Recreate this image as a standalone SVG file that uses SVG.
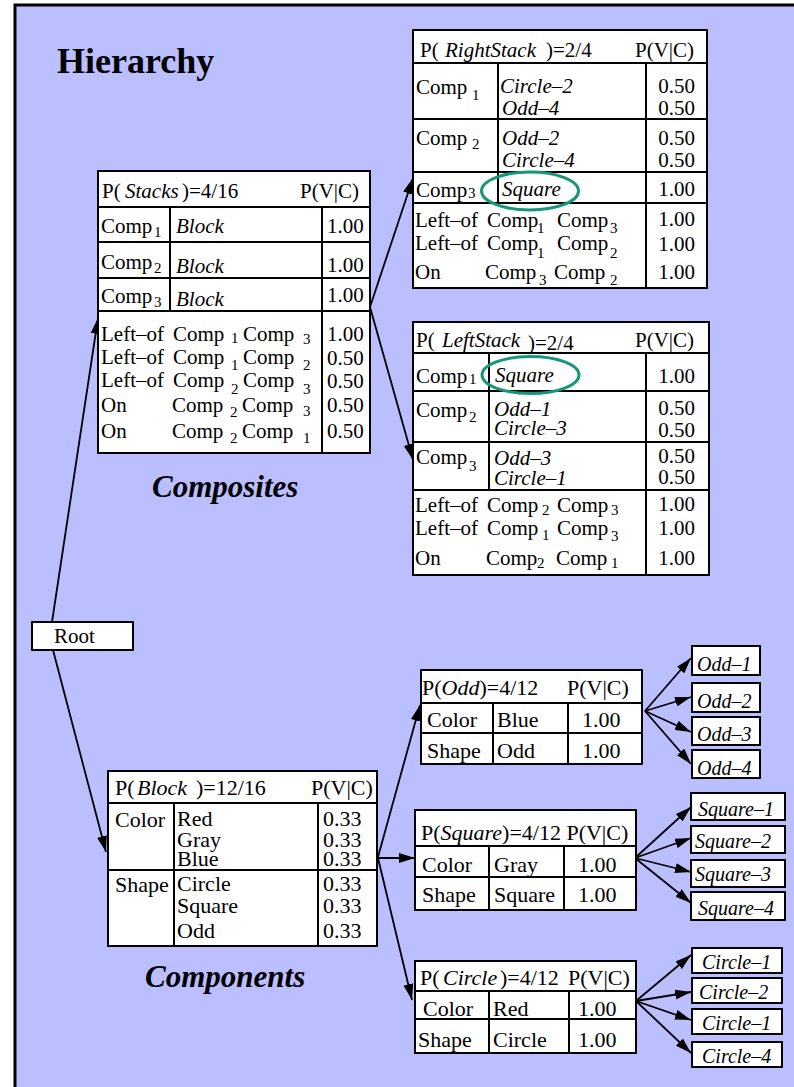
<svg xmlns="http://www.w3.org/2000/svg" width="794" height="1087" viewBox="0 0 794 1087">
<defs>
<style>
text{font-family:"Liberation Serif","Times New Roman",serif;font-size:21px;fill:#000}
.i{font-style:italic}
.s{font-size:15px}
.c{font-size:22px}
.lf{font-size:20px;font-style:italic}
.ttl{font-size:36px;font-weight:bold}
.lbl{font-size:31px;font-weight:bold;font-style:italic}
.box{fill:#fff;stroke:#000;stroke-width:2}
.ln{stroke:#000;stroke-width:2;fill:none}
.ed{stroke:#000;stroke-width:1.8;fill:none;marker-end:url(#ah)}
.ring{fill:none;stroke:#17977a;stroke-width:3}
</style>
<marker id="ah" markerUnits="userSpaceOnUse" markerWidth="16" markerHeight="10" refX="16" refY="5" orient="auto">
<path d="M0,0 L16,5 L0,10 z" fill="#000"/>
</marker>
</defs>
<rect x="15" y="5" width="800" height="1100" fill="#bbbeff" stroke="#000" stroke-width="3"/>
<text class="ttl" x="57" y="73">Hierarchy</text>
<text class="lbl" x="152" y="497">Composites</text>
<text class="lbl" x="145" y="987">Components</text>

<g id="connectors">
<path class="ed" d="M52,622 L98,318"/>
<path class="ed" d="M53,650 L106,852"/>
<path class="ed" d="M370,307 L413,178"/>
<path class="ed" d="M370,307 L413,460"/>
<path class="ed" d="M378,857 L420,705"/>
<path class="ed" d="M378,858 L415,858"/>
<path class="ed" d="M378,858 L412,1000"/>
<path class="ed" d="M645,711 L691,658"/>
<path class="ed" d="M645,711 L691,697"/>
<path class="ed" d="M645,711 L691,732"/>
<path class="ed" d="M645,711 L691,764"/>
<path class="ed" d="M635,858 L691,807"/>
<path class="ed" d="M635,858 L691,838"/>
<path class="ed" d="M635,858 L691,872"/>
<path class="ed" d="M635,858 L691,903"/>
<path class="ed" d="M636,1001 L691,955"/>
<path class="ed" d="M636,1001 L691,992"/>
<path class="ed" d="M636,1001 L691,1020"/>
<path class="ed" d="M636,1001 L691,1053"/>
</g>

<g id="root">
<rect class="box" x="32" y="622" width="101" height="28"/>
<text x="54" y="643">Root</text>
</g>

<g id="stacks">
<rect class="box" x="98" y="171" width="272" height="282"/>
<path class="ln" d="M98,207H370M98,242H370M98,278H370M98,311H370M170,207V311M322,207V453"/>
<text x="102" y="198">P(</text><text class="i" x="125" y="198">Stacks</text><text x="182" y="198">)=4/16</text>
<text x="300" y="198">P(V|C)</text>
<text x="101" y="233">Comp</text><text class="s" x="154" y="237">1</text><text class="i" x="176" y="233">Block</text><text x="327" y="233">1.00</text>
<text x="101" y="269">Comp</text><text class="s" x="154" y="273">2</text><text class="i" x="176" y="273">Block</text><text x="327" y="272">1.00</text>
<text x="101" y="303">Comp</text><text class="s" x="154" y="307">3</text><text class="i" x="176" y="306">Block</text><text x="327" y="302">1.00</text>
<text x="101" y="341">Left–of</text><text x="173" y="341">Comp</text><text class="s" x="231" y="343">1</text><text x="243" y="341">Comp</text><text class="s" x="303" y="344">3</text><text x="327" y="341">1.00</text>
<text x="101" y="364">Left–of</text><text x="173" y="364">Comp</text><text class="s" x="231" y="370">1</text><text x="243" y="364">Comp</text><text class="s" x="303" y="370">2</text><text x="327" y="365">0.50</text>
<text x="101" y="387">Left–of</text><text x="173" y="387">Comp</text><text class="s" x="231" y="394">2</text><text x="243" y="387">Comp</text><text class="s" x="303" y="394">3</text><text x="327" y="388">0.50</text>
<text x="101" y="412">On</text><text x="172" y="412">Comp</text><text class="s" x="230" y="417">2</text><text x="242" y="412">Comp</text><text class="s" x="303" y="416">3</text><text x="327" y="412">0.50</text>
<text x="101" y="438">On</text><text x="172" y="438">Comp</text><text class="s" x="230" y="443">2</text><text x="242" y="438">Comp</text><text class="s" x="303" y="443">1</text><text x="327" y="438">0.50</text>
</g>

<g id="rightstack">
<rect class="box" x="413" y="30" width="294" height="258"/>
<path class="ln" d="M413,63H707M413,119H707M413,172H707M413,203H707M498,63V203M646,63V288"/>
<text x="420" y="57">P(</text><text class="i" x="445" y="57">RightStack</text><text x="546" y="57">)=2/4</text>
<text x="635" y="57">P(V|C)</text>
<text x="416" y="94">Comp</text><text class="s" x="472" y="100">1</text>
<text class="i" x="500" y="93">Circle–2</text><text class="i" x="502" y="115">Odd–4</text>
<text x="695" y="93" text-anchor="end">0.50</text><text x="695" y="115" text-anchor="end">0.50</text>
<text x="416" y="145">Comp</text><text class="s" x="472" y="149">2</text>
<text class="i" x="502" y="145">Odd–2</text><text class="i" x="502" y="167">Circle–4</text>
<text x="695" y="145" text-anchor="end">0.50</text><text x="695" y="167" text-anchor="end">0.50</text>
<text x="416" y="197">Comp</text><text class="s" x="468" y="198">3</text>
<text class="i" x="502" y="196">Square</text><text x="695" y="196" text-anchor="end">1.00</text>
<text x="415" y="227">Left–of</text><text x="487" y="227">Comp</text><text class="s" x="537" y="233">1</text><text x="557" y="227">Comp</text><text class="s" x="610" y="233">3</text>
<text x="695" y="226" text-anchor="end">1.00</text>
<text x="415" y="250">Left–of</text><text x="487" y="250">Comp</text><text class="s" x="537" y="258">1</text><text x="557" y="250">Comp</text><text class="s" x="610" y="258">2</text>
<text x="695" y="251" text-anchor="end">1.00</text>
<text x="415" y="279">On</text><text x="485" y="279">Comp</text><text class="s" x="539" y="285">3</text><text x="554" y="279">Comp</text><text class="s" x="610" y="285">2</text>
<text x="695" y="279" text-anchor="end">1.00</text>
<ellipse class="ring" cx="530" cy="191" rx="48.5" ry="19"/>
</g>

<g id="leftstack">
<rect class="box" x="413" y="322" width="296" height="253"/>
<path class="ln" d="M413,353H709M413,391H709M413,442H709M413,490H709M489,353V490M646,353V575"/>
<text x="416" y="347">P(</text><text class="i" x="442" y="347">LeftStack</text><text x="528" y="350">)=2/4</text>
<text x="635" y="347">P(V|C)</text>
<text x="416" y="383">Comp</text><text class="s" x="469" y="384">1</text>
<text class="i" x="495" y="382">Square</text><text x="695" y="383" text-anchor="end">1.00</text>
<text x="416" y="417">Comp</text><text class="s" x="469" y="422">2</text>
<text class="i" x="494" y="416">Odd–1</text><text class="i" x="494" y="435">Circle–3</text>
<text x="695" y="415" text-anchor="end">0.50</text><text x="695" y="437" text-anchor="end">0.50</text>
<text x="416" y="464">Comp</text><text class="s" x="469" y="471">3</text>
<text class="i" x="494" y="465">Odd–3</text><text class="i" x="494" y="485">Circle–1</text>
<text x="695" y="463" text-anchor="end">0.50</text><text x="695" y="484" text-anchor="end">0.50</text>
<text x="415" y="512">Left–of</text><text x="487" y="512">Comp</text><text class="s" x="542" y="515">2</text><text x="557" y="512">Comp</text><text class="s" x="611" y="515">3</text>
<text x="695" y="511" text-anchor="end">1.00</text>
<text x="415" y="535">Left–of</text><text x="487" y="535">Comp</text><text class="s" x="542" y="540">1</text><text x="557" y="535">Comp</text><text class="s" x="611" y="541">3</text>
<text x="695" y="535" text-anchor="end">1.00</text>
<text x="415" y="565">On</text><text x="486" y="565">Comp</text><text class="s" x="537" y="568">2</text><text x="556" y="565">Comp</text><text class="s" x="611" y="568">1</text>
<text x="695" y="565" text-anchor="end">1.00</text>
<ellipse class="ring" cx="530.5" cy="375" rx="48.5" ry="18.5"/>
</g>

<g id="block">
<rect class="box" x="108" y="771" width="269" height="175"/>
<path class="ln" d="M108,803H377M108,870H377M174,803V946M318,803V946"/>
<g class="c">
<text class="c" x="115" y="795">P(</text><text class="c i" x="137" y="795">Block</text><text class="c" x="196" y="795">)=12/16</text>
<text class="c" x="311" y="795">P(V|C)</text>
<text class="c" x="115" y="827">Color</text>
<text class="c" x="177" y="826">Red</text><text class="c" x="177" y="847">Gray</text><text class="c" x="177" y="866">Blue</text>
<text class="c" x="323" y="826">0.33</text><text class="c" x="323" y="847">0.33</text><text class="c" x="323" y="866">0.33</text>
<text class="c" x="115" y="892">Shape</text>
<text class="c" x="177" y="891">Circle</text><text class="c" x="177" y="913">Square</text><text class="c" x="177" y="938">Odd</text>
<text class="c" x="323" y="891">0.33</text><text class="c" x="323" y="913">0.33</text><text class="c" x="323" y="938">0.33</text>
</g>
</g>

<g id="odd">
<rect class="box" x="421" y="670" width="221" height="94"/>
<path class="ln" d="M421,703H642M421,733H642M493,703V764M568,703V764"/>
<text class="c" x="422" y="695">P(<tspan class="i">Odd</tspan>)=4/12</text>
<text class="c" x="567" y="695">P(V|C)</text>
<text class="c" x="427" y="727">Color</text><text class="c" x="497" y="727">Blue</text><text class="c" x="582" y="727">1.00</text>
<text class="c" x="427" y="758">Shape</text><text class="c" x="497" y="758">Odd</text><text class="c" x="582" y="758">1.00</text>
</g>

<g id="square">
<rect class="box" x="415" y="810" width="221" height="100"/>
<path class="ln" d="M415,846H636M415,877H636M489,846V910M564,846V910"/>
<text class="c" x="421" y="840">P(<tspan class="i">Square</tspan>)=4/12 P(V|C)</text>
<text class="c" x="422" y="872">Color</text><text class="c" x="494" y="872">Gray</text><text class="c" x="578" y="872">1.00</text>
<text class="c" x="422" y="902">Shape</text><text class="c" x="494" y="902">Square</text><text class="c" x="578" y="902">1.00</text>
</g>

<g id="circle">
<rect class="box" x="415" y="961" width="221" height="92"/>
<path class="ln" d="M415,991H636M415,1019H636M489,991V1053M569,991V1053"/>
<text class="c" x="420" y="985">P(</text><text class="c i" x="443" y="985">Circle</text><text class="c" x="500" y="985">)=4/12</text><text class="c" x="568" y="985">P(V|C)</text>
<text class="c" x="423" y="1016">Color</text><text class="c" x="493" y="1016">Red</text><text class="c" x="578" y="1016">1.00</text>
<text class="c" x="418" y="1047">Shape</text><text class="c" x="493" y="1047">Circle</text><text class="c" x="578" y="1047">1.00</text>
</g>

<g id="odd-1"><rect class="box" x="692" y="646" width="68" height="29"/><text class="lf" x="697" y="671">Odd–1</text></g>
<g id="odd-2"><rect class="box" x="692" y="683" width="68" height="29"/><text class="lf" x="697" y="708">Odd–2</text></g>
<g id="odd-3"><rect class="box" x="692" y="717" width="68" height="28"/><text class="lf" x="697" y="741">Odd–3</text></g>
<g id="odd-4"><rect class="box" x="692" y="750" width="68" height="28"/><text class="lf" x="697" y="775">Odd–4</text></g>
<g id="square-1"><rect class="box" x="691" y="793" width="94" height="27"/><text class="lf" x="698" y="816">Square–1</text></g>
<g id="square-2"><rect class="box" x="691" y="826" width="94" height="27"/><text class="lf" x="695" y="848">Square–2</text></g>
<g id="square-3"><rect class="box" x="691" y="860" width="94" height="27"/><text class="lf" x="695" y="881">Square–3</text></g>
<g id="square-4"><rect class="box" x="691" y="892" width="94" height="28"/><text class="lf" x="698" y="915">Square–4</text></g>
<g id="circle-1a"><rect class="box" x="692" y="948" width="90" height="25"/><text class="lf" x="702" y="969">Circle–1</text></g>
<g id="circle-2"><rect class="box" x="692" y="978" width="90" height="25"/><text class="lf" x="699" y="999">Circle–2</text></g>
<g id="circle-1b"><rect class="box" x="692" y="1009" width="90" height="25"/><text class="lf" x="702" y="1030">Circle–1</text></g>
<g id="circle-4"><rect class="box" x="692" y="1042" width="90" height="25"/><text class="lf" x="702" y="1063">Circle–4</text></g>
</svg>
